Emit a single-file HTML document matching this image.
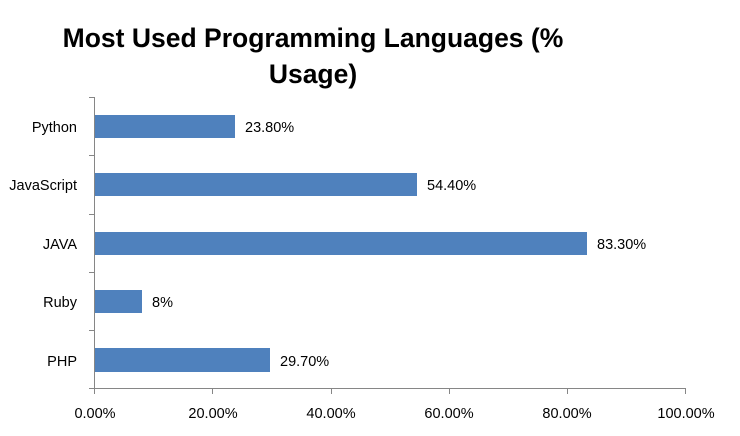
<!DOCTYPE html>
<html><head><style>
body{margin:0;background:#fff;}
svg text{font-family:"Liberation Sans",Arial,sans-serif;fill:#000;}
</style></head><body>
<svg width="740" height="431" xmlns="http://www.w3.org/2000/svg">
<text x="313" y="47" font-size="26.5" font-weight="bold" text-anchor="middle">Most Used Programming Languages (%</text>
<text x="313" y="83" font-size="26.5" font-weight="bold" text-anchor="middle">Usage)</text>
<g stroke="#868686" stroke-width="1">
<line x1="94.5" y1="97" x2="94.5" y2="389"/>
<line x1="94" y1="388.5" x2="686" y2="388.5"/>
<line x1="89" y1="97.5" x2="94" y2="97.5"/>
<line x1="89" y1="155.5" x2="94" y2="155.5"/>
<line x1="89" y1="214.5" x2="94" y2="214.5"/>
<line x1="89" y1="272.5" x2="94" y2="272.5"/>
<line x1="89" y1="330.5" x2="94" y2="330.5"/>
<line x1="89" y1="388.5" x2="94" y2="388.5"/>
<line x1="94.5" y1="389" x2="94.5" y2="394"/>
<line x1="212.5" y1="389" x2="212.5" y2="394"/>
<line x1="331.5" y1="389" x2="331.5" y2="394"/>
<line x1="449.5" y1="389" x2="449.5" y2="394"/>
<line x1="567.5" y1="389" x2="567.5" y2="394"/>
<line x1="685.5" y1="389" x2="685.5" y2="394"/>
</g>
<g fill="#4F81BD">
<rect x="95" y="115" width="140" height="23"/>
<rect x="95" y="173" width="322" height="23"/>
<rect x="95" y="232" width="492" height="23"/>
<rect x="95" y="290" width="47" height="23"/>
<rect x="95" y="348" width="175" height="24"/>
</g>
<g font-size="14.5">
<text x="245" y="132">23.80%</text>
<text x="427" y="190">54.40%</text>
<text x="597" y="249">83.30%</text>
<text x="152" y="307">8%</text>
<text x="280" y="366">29.70%</text>
</g>
<g font-size="14.5" text-anchor="end">
<text x="77" y="132">Python</text>
<text x="77" y="190">JavaScript</text>
<text x="77" y="249">JAVA</text>
<text x="77" y="307">Ruby</text>
<text x="77" y="366">PHP</text>
</g>
<g font-size="14.5" text-anchor="middle">
<text x="95" y="418">0.00%</text>
<text x="213" y="418">20.00%</text>
<text x="331" y="418">40.00%</text>
<text x="449" y="418">60.00%</text>
<text x="567" y="418">80.00%</text>
<text x="686" y="418">100.00%</text>
</g>
</svg>
</body></html>
